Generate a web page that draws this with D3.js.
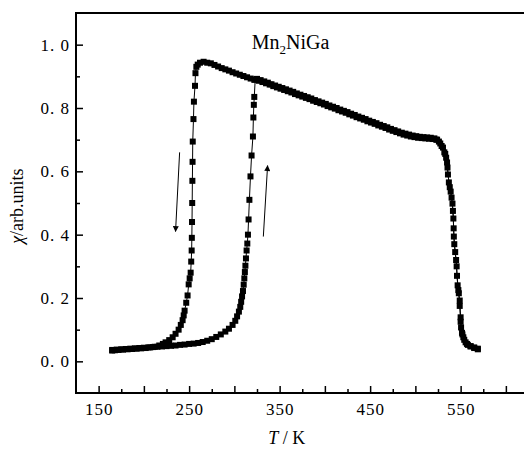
<!DOCTYPE html>
<html>
<head>
<meta charset="utf-8">
<script src="https://cdn.jsdelivr.net/npm/d3@7"></script>
<style>
  body { margin: 0; background: #fff; }
  svg text { font-family: "Liberation Serif", "Times New Roman", serif; fill: #000; }
</style>
</head>
<body>
<div id="chart"></div>
<script>
// susceptibility vs temperature, Mn2NiGa (heating / cooling)

// heating branch: temperature (K) and chi (arb. units)
const heatT = [165, 170, 175, 180, 185, 190, 195, 200, 205, 210, 215, 220, 225, 230, 235, 240, 245, 250, 255, 260,
  265, 270, 275, 280, 285, 290, 294, 298, 301, 303, 305, 306.5, 307.5, 308.5, 309.5, 310.3, 311, 311.6, 312.2, 312.8,
  313.5, 314.3, 315, 315.7, 316.6, 317.8, 319, 320.5, 321, 321.5, 322, 323,
  327, 331, 335, 339, 343, 347, 351, 355, 359, 363, 367, 371, 375, 379, 383, 387, 391, 395, 399, 403, 407, 411,
  415, 419, 423, 427, 431, 435, 439, 443, 447, 451, 455, 459, 463, 467, 471, 475, 479, 483, 487, 491, 495, 499,
  503, 507, 511, 515, 519, 523, 526, 529, 532, 534, 535.5, 537, 539, 541, 542, 542.5, 544, 545.6, 546.7, 548, 549,
  550, 550.5, 552, 554, 557, 561, 565, 569];
const heatChi = [0.036, 0.037, 0.038, 0.039, 0.040, 0.041, 0.042, 0.043, 0.044, 0.045, 0.046, 0.047, 0.048, 0.049, 0.050, 0.052, 0.053, 0.055, 0.056, 0.058,
  0.061, 0.065, 0.070, 0.077, 0.085, 0.094, 0.103, 0.115, 0.128, 0.142, 0.157, 0.172, 0.188, 0.205, 0.222, 0.242, 0.262, 0.282, 0.302, 0.325,
  0.350, 0.372, 0.400, 0.448, 0.510, 0.584, 0.650, 0.710, 0.770, 0.810, 0.835, 0.890,
  0.886, 0.882, 0.878, 0.874, 0.869, 0.865, 0.861, 0.857, 0.853, 0.849, 0.844, 0.840, 0.836, 0.832, 0.828, 0.823, 0.819, 0.815, 0.811, 0.806, 0.802, 0.798,
  0.793, 0.789, 0.785, 0.780, 0.776, 0.771, 0.767, 0.763, 0.758, 0.754, 0.750, 0.745, 0.741, 0.737, 0.732, 0.728, 0.724, 0.720, 0.716, 0.713, 0.710, 0.708,
  0.706, 0.705, 0.704, 0.703, 0.702, 0.700, 0.694, 0.680, 0.660, 0.643, 0.612, 0.565, 0.536, 0.498, 0.451, 0.394, 0.345, 0.300, 0.240, 0.215, 0.192,
  0.139, 0.107, 0.085, 0.068, 0.055, 0.048, 0.044, 0.040];

// cooling branch
const coolT = [165, 168, 172, 177, 182, 187, 192, 197, 202, 207, 212, 217, 221, 224, 228, 231.8, 235, 238.4, 240.8, 242.8,
  244, 245, 246.8, 248.3, 249.5, 250.6, 251.7, 252.3, 252.8, 253, 253.2, 253.4, 253.6, 253.8, 254, 254.8, 255.3, 256.5, 257, 258,
  259.5, 262, 266, 270, 274, 278, 282, 286, 290, 294, 298, 302, 306, 310, 314, 318, 322,
  325, 329, 333, 337, 341, 345, 349, 353, 357, 361, 365, 369, 373, 377, 381, 385, 389, 393, 397, 401, 405, 409,
  413, 417, 421, 425, 429, 433, 437, 441, 445, 449, 453, 457, 461, 465, 469, 473, 477, 481, 485, 489, 493, 497,
  501, 505, 509, 513, 517, 521, 524, 527.5, 530.5, 533, 535, 536, 538, 540, 541.5, 542.3, 543, 545, 546, 547.5, 549,
  550, 551.5, 553, 555.5, 558, 561, 565, 569];
const coolChi = [0.034, 0.035, 0.036, 0.037, 0.038, 0.039, 0.040, 0.041, 0.042, 0.044, 0.046, 0.050, 0.055, 0.060, 0.067, 0.076, 0.087, 0.100, 0.115, 0.130,
  0.145, 0.160, 0.185, 0.208, 0.243, 0.262, 0.280, 0.315, 0.350, 0.390, 0.440, 0.500, 0.570, 0.630, 0.694, 0.765, 0.820, 0.870, 0.910, 0.930,
  0.937, 0.943, 0.946, 0.943, 0.941, 0.936, 0.931, 0.926, 0.922, 0.918, 0.913, 0.909, 0.905, 0.901, 0.897, 0.893, 0.889,
  0.892, 0.888, 0.884, 0.880, 0.875, 0.871, 0.867, 0.863, 0.859, 0.855, 0.851, 0.846, 0.842, 0.838, 0.834, 0.830, 0.825, 0.821, 0.817, 0.813, 0.808, 0.804,
  0.800, 0.795, 0.791, 0.787, 0.782, 0.778, 0.773, 0.769, 0.765, 0.760, 0.756, 0.752, 0.747, 0.743, 0.739, 0.734, 0.730, 0.726, 0.722, 0.719, 0.716, 0.713,
  0.711, 0.709, 0.708, 0.707, 0.706, 0.704, 0.700, 0.688, 0.675, 0.655, 0.628, 0.590, 0.550, 0.517, 0.475, 0.420, 0.370, 0.320, 0.270, 0.225, 0.175,
  0.125, 0.090, 0.076, 0.060, 0.052, 0.047, 0.042, 0.038];

// ticks
const xMajorTicks = [150, 200, 250, 300, 350, 400, 450, 500, 550, 600];
const xMinorTicks = [175, 225, 275, 325, 375, 425, 475, 525, 575];
const xLabelTicks = [150, 250, 350, 450, 550];
const yMajorTicks = [0, 0.2, 0.4, 0.6, 0.8, 1.0];
const yMinorTicks = [0.1, 0.3, 0.5, 0.7, 0.9];

// arrows: [T start, chi start, T end, chi end]
const arrowDown = [239.5, 0.66, 235, 0.41];
const arrowUp = [332, 0.394, 336.7, 0.618];

const W = 524, H = 451;
const plotLeft = 76, plotTop = 13, plotBottom = 393;
const serif = '"Liberation Serif", "Times New Roman", serif';

const svg = d3.select("#chart").append("svg")
  .attr("width", W)
  .attr("height", H);

const x = d3.scaleLinear().domain([125, 625]).range([plotLeft, plotLeft + 500 * 0.905]);
const y = d3.scaleLinear().domain([-0.1, 1.1]).range([plotBottom, plotTop]);

svg.append("defs").append("marker")
  .attr("id", "head")
  .attr("viewBox", "0 0 10 10")
  .attr("refX", 9)
  .attr("refY", 5)
  .attr("markerWidth", 9)
  .attr("markerHeight", 6)
  .attr("markerUnits", "userSpaceOnUse")
  .attr("orient", "auto")
  .append("path")
    .attr("d", "M0,0 L10,5 L0,10 Z")
    .attr("fill", "#000");

// x axis: majors (labels only every 100), minors
svg.append("g")
  .attr("transform", `translate(0,${plotBottom})`)
  .call(d3.axisBottom(x)
    .tickValues(xMajorTicks)
    .tickSize(-7)
    .tickSizeOuter(0)
    .tickPadding(10)
    .tickFormat(d => xLabelTicks.includes(d) ? d : ""));
svg.append("g")
  .attr("transform", `translate(0,${plotBottom})`)
  .call(d3.axisBottom(x).tickValues(xMinorTicks).tickSize(-4).tickSizeOuter(0).tickFormat(""));

svg.append("g")
  .attr("transform", `translate(${plotLeft},0)`)
  .call(d3.axisLeft(y)
    .tickValues(yMajorTicks)
    .tickSize(-7)
    .tickSizeOuter(0)
    .tickPadding(6)
    .tickFormat(d => d3.format(".1f")(d).replace(".", ". ")));
svg.append("g")
  .attr("transform", `translate(${plotLeft},0)`)
  .call(d3.axisLeft(y).tickValues(yMinorTicks).tickSize(-4).tickSizeOuter(0).tickFormat(""));

svg.selectAll(".tick line").attr("stroke", "#000").attr("stroke-width", 1.5);
svg.selectAll(".tick text")
  .attr("font-family", serif)
  .style("font-family", serif)
  .style("font-size", "17px")
  .style("letter-spacing", "1px")
  .attr("fill", "#000");
svg.selectAll(".domain").remove();

// frame (right side runs off the picture)
svg.append("path")
  .attr("d", `M${W},${plotTop} H${plotLeft} V${plotBottom} H${W}`)
  .attr("fill", "none")
  .attr("stroke", "#000")
  .attr("stroke-width", 2);

// series
const heating = heatT.map((t, i) => ({ t, c: heatChi[i] }));
const cooling = coolT.map((t, i) => ({ t, c: coolChi[i] }));
const line = d3.line().x(d => x(d.t)).y(d => y(d.c));

[heating, cooling].forEach(series => {
  svg.append("path")
    .datum(series)
    .attr("fill", "none")
    .attr("stroke", "#000")
    .attr("stroke-width", 1)
    .attr("d", line);
  svg.append("g").selectAll("rect")
    .data(series)
    .enter().append("rect")
      .attr("x", d => x(d.t) - 3)
      .attr("y", d => y(d.c) - 3)
      .attr("width", 6)
      .attr("height", 6)
      .attr("fill", "#000");
});

// arrows
[arrowDown, arrowUp].forEach(a => {
  svg.append("line")
    .attr("x1", x(a[0])).attr("y1", y(a[1]))
    .attr("x2", x(a[2])).attr("y2", y(a[3]))
    .attr("stroke", "#000")
    .attr("stroke-width", 1)
    .attr("marker-end", "url(#head)");
});

// compound name
const name = svg.append("text")
  .attr("x", x(362))
  .attr("y", y(0.985))
  .attr("text-anchor", "middle")
  .style("font-size", "20px");
name.append("tspan").text("Mn");
name.append("tspan").attr("dy", 5).style("font-size", "13px").text("2");
name.append("tspan").attr("dy", -5).text("NiGa");

// axis titles
const xt = svg.append("text")
  .attr("x", x(358))
  .attr("y", 444)
  .attr("text-anchor", "middle")
  .style("font-size", "18px");
xt.append("tspan").style("font-style", "italic").text("T");
xt.append("tspan").text(" / K");

const yt = svg.append("text")
  .attr("transform", `translate(23,${y(0.49)}) rotate(-90)`)
  .attr("text-anchor", "middle")
  .style("font-size", "18px");
yt.append("tspan").style("font-style", "italic").text("χ");
yt.append("tspan").text("/arb.units");
</script>
</body>
</html>
